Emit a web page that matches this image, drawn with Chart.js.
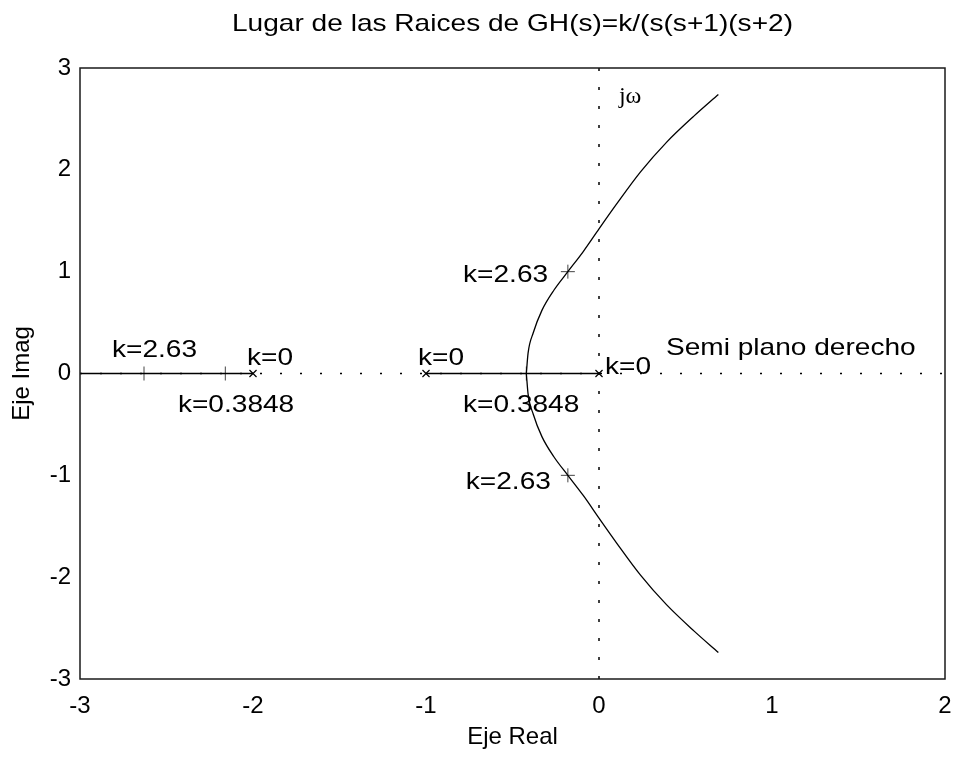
<!DOCTYPE html>
<html>
<head>
<meta charset="utf-8">
<script src="https://cdn.jsdelivr.net/npm/chart.js@4.4.1/dist/chart.umd.min.js"></script>
<style>
  html, body { margin: 0; padding: 0; background: #fff; }
  #wrap { width: 954px; height: 758px; }
</style>
</head>
<body>
<div id="wrap"><canvas id="myChart" width="954" height="758"></canvas></div>
<script>
// axis ticks
var xTicks = [-3, -2, -1, 0, 1, 2];
var yTicks = [-3, -2, -1, 0, 1, 2, 3];

// dotted axes (real axis and jw axis)
var realAxisRe = [-3, 2];
var realAxisIm = [0, 0];
var imagAxisRe = [0, 0];
var imagAxisIm = [-3, 3];

// locus on the real axis
var leftBranchRe = [-3, -2];
var leftBranchIm = [0, 0];
var midBranchRe = [-1, 0];
var midBranchIm = [0, 0];

// complex branches
var upperRe = [-0.42, -0.41, -0.38, -0.33, -0.26, -0.18, -0.09, 0.00, 0.10, 0.24, 0.39, 0.55, 0.69];
var upperIm = [0.00, 0.20, 0.40, 0.62, 0.82, 1.00, 1.20, 1.42, 1.66, 1.98, 2.27, 2.53, 2.74];
var lowerRe = [-0.42, -0.41, -0.38, -0.33, -0.26, -0.18, -0.09, 0.00, 0.10, 0.24, 0.39, 0.55, 0.69];
var lowerIm = [0.00, -0.20, -0.40, -0.62, -0.82, -1.00, -1.20, -1.42, -1.66, -1.98, -2.27, -2.53, -2.74];

// open loop poles (k=0)
var poleRe = [0, -1, -2];
var poleIm = [0, 0, 0];

// gain markers k=2.63 and k=0.3848
var gainRe = [-2.63, -0.18, -0.18, -2.16, -0.42];
var gainIm = [0, 1.0, -1.0, 0, 0];

// text notes on the plot
var noteText = ['jω', 'k=2.63', 'k=2.63', 'k=0.3848', 'k=0', 'Semi plano derecho', 'k=0', 'k=0', 'k=2.63', 'k=0.3848'];
var noteRe = [0.115, -0.786, -0.77, -0.786, 0.035, 0.387, -1.046, -2.035, -2.815, -2.434];
var noteIm = [2.66, 0.90, -1.13, -0.38, 0.0, 0.18, 0.08, 0.08, 0.16, -0.38];

var titleText = 'Lugar de las Raices de GH(s)=k/(s(s+1)(s+2)';

function toPoints(re, im) {
    var pts = [];
    for (let i = 0; i < re.length; i++) {
        pts.push({x: re[i], y: im[i]});
    }
    return pts;
}

var SANS = '"Liberation Sans", Arial, sans-serif';
var STRETCH = 1.17;

// draw text a bit wider, like the scanned original
function wideText(ctx, str, px, py, align, font, sx) {
    ctx.save();
    ctx.font = font;
    ctx.textAlign = 'left';
    ctx.textBaseline = 'alphabetic';
    var w = ctx.measureText(str).width * sx;
    var x0 = px;
    if (align == 'center') x0 = px - w / 2;
    if (align == 'right') x0 = px - w;
    ctx.translate(x0, py);
    ctx.scale(sx, 1);
    ctx.fillStyle = '#000';
    ctx.fillText(str, 0, 0);
    ctx.restore();
}

var decorations = {
    id: 'decorations',
    afterDraw: function(chart) {
        var ctx = chart.ctx;
        var area = chart.chartArea;
        var xs = chart.scales.x;
        var ys = chart.scales.y;

        // frame
        ctx.save();
        ctx.strokeStyle = '#1a1a1a';
        ctx.lineWidth = 1.5;
        ctx.strokeRect(area.left, area.top, area.right - area.left, area.bottom - area.top);
        ctx.restore();

        // title
        wideText(ctx, titleText, (area.left + area.right) / 2, 31, 'center', '24px ' + SANS, STRETCH);

        // notes
        for (let i = 0; i < noteText.length; i++) {
            var px = xs.getPixelForValue(noteRe[i]);
            var py = ys.getPixelForValue(noteIm[i]);
            if (noteText[i] == 'jω') {
                wideText(ctx, noteText[i], px, py, 'left', '24px "Liberation Serif", serif', 1);
            } else {
                wideText(ctx, noteText[i], px, py, 'left', '24px ' + SANS, STRETCH);
            }
        }
    }
};

var lineStyle = {
    showLine: true,
    borderColor: '#000',
    borderWidth: 1.3,
    pointRadius: 0,
    fill: false,
    tension: 0
};

var datasets = [
    Object.assign({}, lineStyle, {data: toPoints(realAxisRe, realAxisIm), borderWidth: 1.5, borderDash: [2, 18]}),
    Object.assign({}, lineStyle, {data: toPoints(imagAxisRe, imagAxisIm), borderWidth: 1.5, borderDash: [3, 16]}),
    Object.assign({}, lineStyle, {data: toPoints(leftBranchRe, leftBranchIm)}),
    Object.assign({}, lineStyle, {data: toPoints(midBranchRe, midBranchIm), borderWidth: 1.6}),
    Object.assign({}, lineStyle, {data: toPoints(upperRe, upperIm), cubicInterpolationMode: 'monotone'}),
    Object.assign({}, lineStyle, {data: toPoints(lowerRe, lowerIm), cubicInterpolationMode: 'monotone'}),
    {
        data: toPoints(poleRe, poleIm),
        showLine: false,
        pointStyle: 'crossRot',
        pointRadius: 5,
        borderColor: '#000',
        borderWidth: 1.2
    },
    {
        data: toPoints(gainRe, gainIm),
        showLine: false,
        pointStyle: 'cross',
        pointRadius: 7,
        borderColor: '#444',
        borderWidth: 1
    }
];

var ctx = document.getElementById('myChart').getContext('2d');
var myChart = new Chart(ctx, {
    type: 'scatter',
    data: {datasets: datasets},
    plugins: [decorations],
    options: {
        responsive: false,
        animation: false,
        events: [],
        layout: {padding: {top: 68, right: 9, left: 0, bottom: 0}},
        plugins: {
            legend: {display: false},
            tooltip: {enabled: false},
            title: {display: false}
        },
        scales: {
            x: {
                type: 'linear',
                min: -3,
                max: 2,
                afterFit: function(s) {
                    s.height = 79;
                    s.paddingLeft = 0;
                    s.paddingRight = 0;
                },
                afterBuildTicks: function(s) { s.ticks = xTicks.map(v => ({value: v})); },
                grid: {display: false, drawTicks: false},
                border: {display: false},
                ticks: {
                    color: '#000',
                    padding: 13,
                    font: {family: SANS, size: 24},
                    callback: v => String(v)
                },
                title: {
                    display: true,
                    text: 'Eje Real',
                    color: '#000',
                    padding: {top: 0, bottom: 6},
                    font: {family: SANS, size: 24}
                }
            },
            y: {
                type: 'linear',
                min: -3,
                max: 3,
                afterFit: function(s) {
                    s.width = 80;
                    s.paddingTop = 0;
                    s.paddingBottom = 0;
                },
                afterBuildTicks: function(s) { s.ticks = yTicks.map(v => ({value: v})); },
                grid: {display: false, drawTicks: false},
                border: {display: false},
                ticks: {
                    color: '#000',
                    padding: 9,
                    font: {family: SANS, size: 24},
                    callback: v => String(v)
                },
                title: {
                    display: true,
                    text: 'Eje Imag',
                    color: '#000',
                    padding: {top: 8, bottom: 0},
                    font: {family: SANS, size: 24}
                }
            }
        }
    }
});
</script>
</body>
</html>
